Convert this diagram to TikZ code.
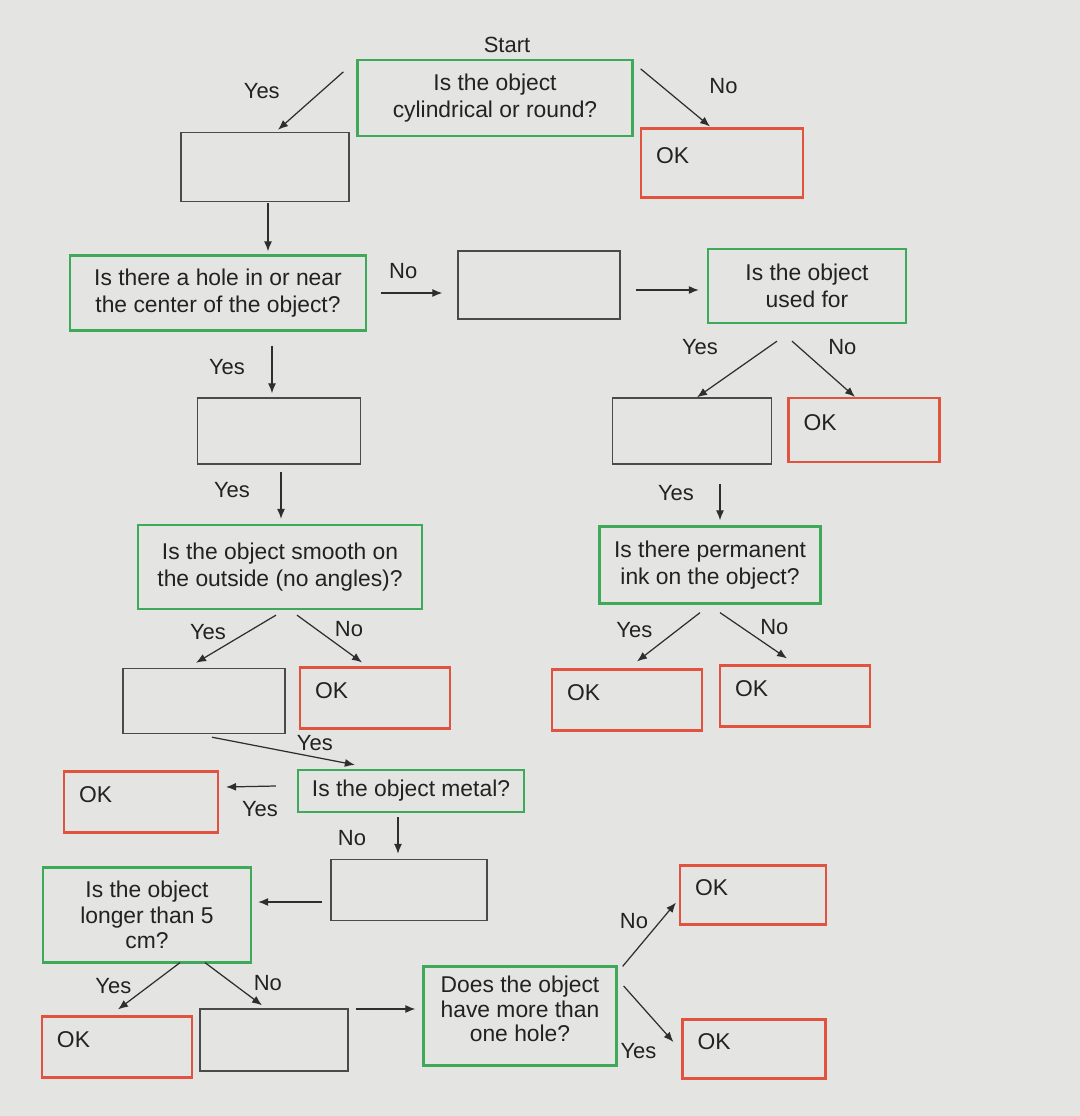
\documentclass[tikz,border=0pt]{standalone}
\usepackage{fontspec}
\setmainfont{Liberation Sans}
\usetikzlibrary{positioning,arrows.meta}
\definecolor{screen}{HTML}{E4E4E2}
\definecolor{qgreen}{HTML}{3FA95A}
\definecolor{okred}{HTML}{E2533F}
\definecolor{txt}{HTML}{222222}
\definecolor{boxgrey}{HTML}{4A4A4A}
\definecolor{arrgrey}{HTML}{2E2E2E}

\begin{document}
\begin{tikzpicture}[x=0.2mm, y=-0.2mm,
  q/.style={draw=qgreen, line width=1.3pt, align=center, inner sep=0pt,
            font=\fontsize{13}{15.5}\selectfont, text=txt},
  blank/.style={draw=boxgrey, line width=0.8pt, inner sep=0pt},
  ok/.style={draw=okred, line width=1.2pt, align=left, inner xsep=3mm,
             text width=24mm, minimum height=12.2mm, text height=3mm, text depth=2.8mm,
             font=\fontsize{13}{15.5}\selectfont, text=txt},
  arr/.style={-{Latex[length=2mm,width=1.6mm]}, line width=0.7pt, draw=arrgrey},
  lab/.style={font=\fontsize{12.5}{14}\selectfont, text=txt, inner sep=1pt}]
  % screen background, px grid 1080 x 1116
  \fill[screen] (0,0) rectangle (1080,1116);
  % boxes, placed at px coordinates
  \node[q, minimum width=55mm, minimum height=15.2mm] (start) at (495,98) {Is the object\\cylindrical or round?};
  \node[lab, above=0.8mm of start, xshift=2.4mm] (startlbl) {Start};
  \node[blank, minimum width=33.6mm, minimum height=13.8mm] (b1) at (265,167) {};
  \node[ok, text width=26.4mm, minimum height=13.8mm] (ok1) at (722,163) {OK};
  \node[q, minimum width=59.2mm, minimum height=15mm] (hole) at (218,293) {Is there a hole in or near\\the center of the object?};
  \node[blank, minimum width=32.4mm, minimum height=13.6mm] (b2) at (539,285) {};
  \node[q, minimum width=39.6mm, minimum height=14.8mm] (used) at (807,286) {Is the object\\used for};
  \node[blank, minimum width=32.6mm, minimum height=13.2mm] (b3) at (279,431) {};
  \node[blank, minimum width=31.8mm, minimum height=13.2mm] (b4) at (692,431) {};
  \node[ok, text width=24.2mm, minimum height=12.8mm] (ok2) at (864,430) {OK};
  \node[q, minimum width=56.8mm, minimum height=16.8mm] (smooth) at (280,567) {Is the object smooth on\\the outside (no angles)?};
  \node[q, minimum width=44.2mm, minimum height=15.4mm] (ink) at (710,565) {Is there permanent\\ink on the object?};
  \node[blank, minimum width=32.4mm, minimum height=13mm] (b5) at (204,701) {};
  \node[ok] (ok3) at (375,698) {OK};
  \node[ok] (ok4) at (627,700) {OK};
  \node[ok] (ok5) at (795,696) {OK};
  \node[q, minimum width=45.2mm, minimum height=8.4mm] (metal) at (411,791) {Is the object metal?};
  \node[ok, text width=24.8mm] (ok6) at (141,802) {OK};
  \node[blank, minimum width=31.2mm, minimum height=12.2mm] (b6) at (409,890) {};
  \node[q, minimum width=41.6mm, minimum height=19mm, font=\fontsize{13}{14.5}\selectfont] (longer) at (147,915) {Is the object\\longer than 5\\cm?};
  \node[ok] (ok7) at (117,1047) {OK};
  \node[blank, minimum width=29.6mm, minimum height=12.4mm] (b7) at (274,1040) {};
  \node[q, minimum width=38.6mm, minimum height=19.8mm, font=\fontsize{13}{13.8}\selectfont] (holes) at (520,1016) {Does the object\\have more than\\one hole?\\[-2mm]};
  \node[ok, text width=23.2mm, minimum height=11.8mm] (ok8) at (753,895) {OK};
  \node[ok, text width=22.6mm, minimum height=11.8mm] (ok9) at (754,1049) {OK};
  % connectors
  \draw[arr] ([shift={(-13,13)}]start.north west) -- node[lab, pos=0.33, xshift=-12mm]{Yes} ([shift={(13,-2)}]b1.north);
  \draw[arr] ([shift={(7,10)}]start.north east) -- node[lab, pos=0.3, xshift=12.4mm]{No} ([shift={(-12,-1)}]ok1.north);
  \draw[arr] ([shift={(3,1)}]b1.south) -- ([shift={(50,-3)}]hole.north);
  \draw[arr] ([shift={(14,0)}]hole.east) -- node[lab, midway, xshift=-1.7mm, yshift=4.4mm]{No} ([shift={(-15,8)}]b2.west);
  \draw[arr] ([shift={(15,5)}]b2.east) -- ([shift={(-8,4)}]used.west);
  \draw[arr] ([shift={(-30,17)}]used.south) -- node[lab, pos=0.1, xshift=-13.8mm]{Yes} ([shift={(5,0)}]b4.north);
  \draw[arr] ([shift={(-15,17)}]used.south) -- node[lab, pos=0.1, xshift=8.8mm]{No} ([shift={(-9,0)}]ok2.north);
  \draw[arr] ([shift={(54,14)}]hole.south) -- node[lab, midway, xshift=-9mm, yshift=0.4mm]{Yes} ([shift={(-7,-4)}]b3.north);
  \draw[arr] ([shift={(2,7)}]b3.south) -- node[lab, midway, xshift=-9.8mm, yshift=1.1mm]{Yes} ([shift={(1,-5)}]smooth.north);
  \draw[arr] ([shift={(28,19)}]b4.south) -- node[lab, midway, xshift=-8.8mm, yshift=1.7mm]{Yes} ([shift={(10,-5)}]ink.north);
  \draw[arr] ([shift={(-4,5)}]smooth.south) -- node[lab, pos=0.2, xshift=-10.4mm, yshift=-1.4mm]{Yes} ([shift={(-8,-5)}]b5.north);
  \draw[arr] ([shift={(17,5)}]smooth.south) -- node[lab, pos=0.2, xshift=7.8mm, yshift=-0.8mm]{No} ([shift={(-13,-4)}]ok3.north);
  \draw[arr] ([shift={(-10,8)}]ink.south) -- node[lab, pos=0.2, xshift=-10.6mm, yshift=-1.6mm]{Yes} ([shift={(10,-7)}]ok4.north);
  \draw[arr] ([shift={(10,8)}]ink.south) -- node[lab, pos=0.2, xshift=8.2mm, yshift=-1mm]{No} ([shift={(-8,-6)}]ok5.north);
  \draw[arr] ([shift={(8,3)}]b5.south) -- node[lab, pos=0.72, yshift=2.8mm]{Yes} ([shift={(58,-4)}]metal.north west);
  \draw[arr] ([shift={(-21,-5)}]metal.west) -- node[lab, midway, xshift=1.8mm, yshift=-4.5mm]{Yes} ([shift={(7,-15)}]ok6.east);
  \draw[arr] ([shift={(-13,4)}]metal.south) -- node[lab, midway, xshift=-9.2mm, yshift=-0.5mm]{No} ([shift={(-11,-5)}]b6.north);
  \draw[arr] ([shift={(-8,12)}]b6.west) -- ([shift={(6,-13)}]longer.east);
  \draw[arr] ([shift={(33,-1)}]longer.south) -- node[lab, pos=0.3, xshift=-9.6mm, yshift=-1.8mm]{Yes} ([shift={(1,-6)}]ok7.north);
  \draw[arr] ([shift={(58,-1)}]longer.south) -- node[lab, pos=0.4, xshift=8mm, yshift=-0.6mm]{No} ([shift={(-12,-3)}]b7.north);
  \draw[arr] ([shift={(7,-31)}]b7.east) -- ([shift={(-7,-7)}]holes.west);
  \draw[arr] ([shift={(5,1)}]holes.north east) -- node[lab, pos=0.4, xshift=-2mm, yshift=4mm]{No} ([shift={(-3,-23)}]ok8.south west);
  \draw[arr] ([shift={(6,-30)}]holes.east) -- node[lab, pos=0.8, xshift=-5mm, yshift=-4mm]{Yes} ([shift={(-8,-7)}]ok9.west);
\end{tikzpicture}
\end{document}
